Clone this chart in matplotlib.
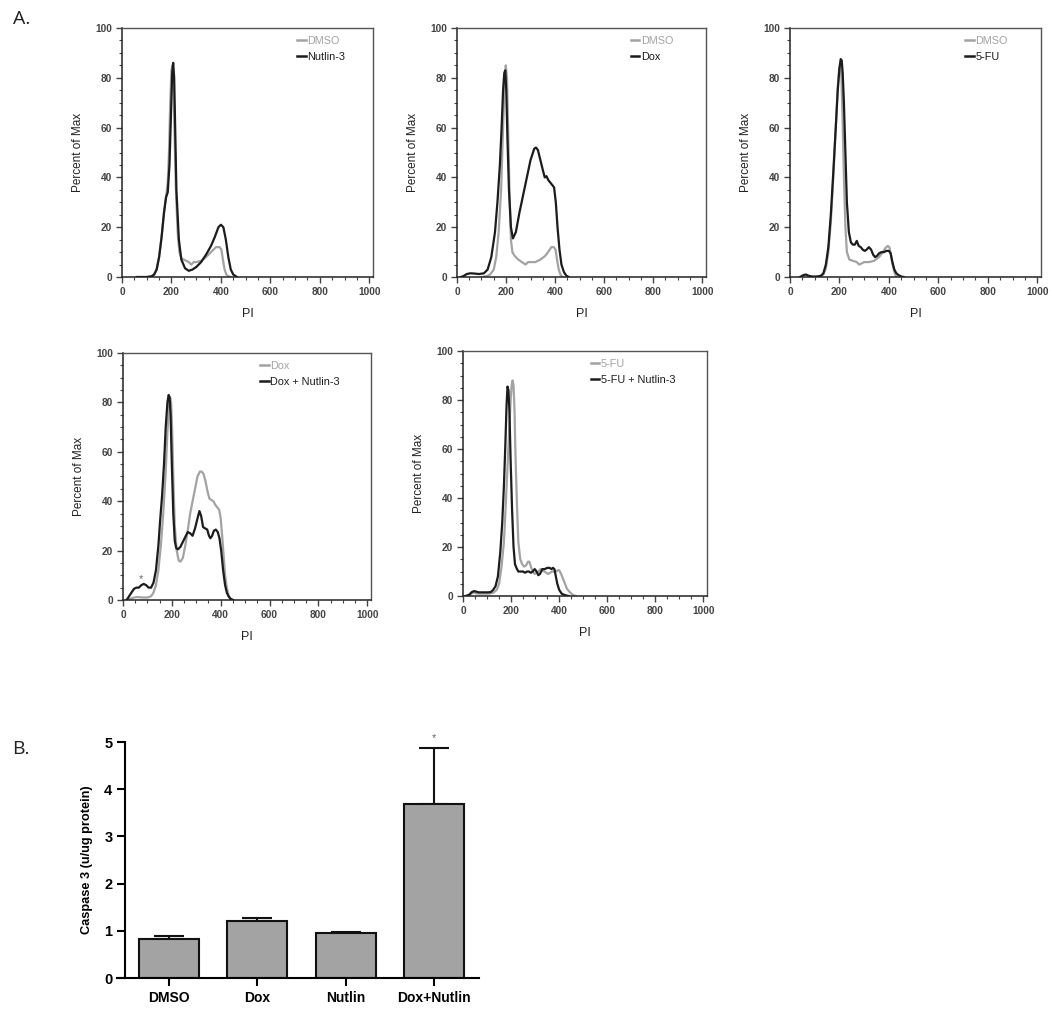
import numpy as np
import matplotlib
matplotlib.use("Agg")
import matplotlib.pyplot as plt
from matplotlib.ticker import MultipleLocator

plt.rcParams['font.family'] = ['Liberation Sans', 'DejaVu Sans']

# ---- Panel A: PI histograms ----
# panel 1: DMSO vs Nutlin-3
p1_ctrl_x = [60, 100, 120, 130, 140, 150, 160, 170, 178, 185, 190, 195, 200, 204, 208, 212, 218, 225, 232, 240,
             250, 260, 270, 280, 290, 300, 320, 340, 360, 380, 395, 402, 408, 415, 422, 430, 440]
p1_ctrl_y = [0, 0, 0.3, 1, 3, 8, 16, 26, 32, 38, 50, 70, 83, 85, 80, 60, 35, 18, 10, 7.5,
             7, 6.5, 6, 5, 6, 6, 6.5, 8, 10, 12, 12, 11, 7, 3, 1, 0.3, 0]
p1_trt_x = [60, 100, 120, 130, 140, 150, 160, 170, 178, 185, 192, 198, 203, 207, 211, 215, 220, 230, 240, 255,
            270, 285, 300, 320, 340, 360, 375, 390, 400, 410, 420, 430, 440, 450, 465]
p1_trt_y = [0, 0, 0.3, 1, 3, 8, 16, 26, 32, 34, 45, 65, 82, 86, 80, 60, 35, 15, 7, 3.5,
            2.5, 3, 4, 6, 9, 12.5, 16, 20, 21, 20, 15, 8, 3, 1, 0]

# panel 2: DMSO vs Dox
p2_ctrl_x = [100, 120, 135, 150, 160, 170, 180, 188, 194, 199, 204, 208, 214, 220, 226, 235, 250, 265, 280, 290,
             300, 320, 340, 360, 375, 385, 395, 402, 408, 415, 422, 430]
p2_ctrl_y = [0, 0.3, 1, 3, 8, 18, 35, 60, 78, 85, 80, 62, 35, 15, 10, 8.5, 7, 6, 5, 6,
             6, 6, 7, 8.5, 10.5, 12, 12, 11, 7, 3, 1, 0]
p2_trt_x = [15, 25, 40, 55, 70, 90, 110, 125, 140, 155, 165, 175, 182, 188, 193, 197, 201, 206, 212, 220,
            228, 240, 255, 270, 285, 300, 315, 322, 330, 340, 350, 358, 365, 372, 380, 388, 396, 403, 410, 418,
            426, 436, 446, 456]
p2_trt_y = [0, 0.3, 1.2, 1.5, 1.4, 1.2, 1.5, 3, 8, 18, 30, 45, 60, 75, 82, 83, 75, 55, 35, 20,
            15.5, 18, 26, 33, 40, 47, 51.5, 52, 51, 47, 43, 40, 40.5, 39, 38, 37, 36, 30, 20, 11,
            5, 2, 0.5, 0]

# panel 3: DMSO vs 5-FU
p3_ctrl_x = [100, 120, 135, 145, 155, 165, 175, 185, 193, 199, 204, 208, 213, 218, 224, 230, 240, 255, 270, 280,
             290, 300, 320, 340, 360, 375, 385, 395, 402, 408, 415, 422, 430]
p3_ctrl_y = [0, 0.3, 1, 3.5, 10, 22, 40, 60, 76, 84, 85, 80, 62, 40, 20, 10, 7, 6.5, 6, 5,
             5.5, 6, 6, 6.5, 8, 10, 11.5, 12.5, 12, 9, 5, 2, 0]
p3_trt_x = [40, 55, 65, 75, 90, 110, 125, 135, 145, 155, 165, 175, 185, 193, 200, 205, 209, 213, 218, 224,
            230, 238, 246, 254, 262, 270, 278, 286, 294, 302, 310, 319, 328, 336, 344, 352, 360, 370, 380, 390,
            400, 407, 414, 422, 430, 440, 450, 460]
p3_trt_y = [0, 0.8, 1, 0.5, 0.2, 0.2, 0.5, 1.5, 5, 12, 25, 42, 60, 75, 84, 87.5, 87, 82, 70, 50,
            30, 18, 14, 13, 13, 14.5, 12.5, 12, 11, 10.5, 11, 12, 11, 9, 8, 8.5, 9.5, 10, 10, 10.5,
            10.5, 9.5, 6, 3, 1.5, 0.7, 0.2, 0]

# panel 4: Dox vs Dox + Nutlin-3
p4_ctrl_x = [15, 30, 45, 60, 80, 100, 115, 125, 135, 145, 155, 165, 175, 182, 188, 193, 197, 201, 206, 212,
             220, 228, 235, 245, 255, 265, 275, 285, 295, 305, 315, 322, 330, 338, 346, 354, 362, 370, 378, 386,
             394, 400, 406, 412, 418, 425, 432, 440, 450]
p4_ctrl_y = [0, 0.5, 1, 1.2, 1, 1, 1.5, 3, 6, 12, 22, 35, 52, 68, 78, 82, 80, 70, 50, 30,
             20, 16, 15.5, 17, 22, 28, 35, 40, 45, 50, 52, 52, 51, 48, 44, 41, 40.5, 40, 38.5, 37.5,
             36.5, 33, 26, 18, 10, 5, 2, 0.5, 0]
p4_trt_x = [15, 25, 35, 45, 55, 65, 75, 85, 95, 105, 115, 125, 135, 145, 152, 160, 168, 175, 182, 187,
            191, 195, 200, 206, 212, 218, 225, 235, 245, 255, 265, 275, 285, 295, 305, 313, 320, 328, 336, 345,
            352, 358, 365, 372, 380, 388, 395, 402, 410, 418, 425, 432, 440, 450]
p4_trt_y = [0, 1.5, 3, 4.5, 5, 5, 6, 6.5, 6, 5, 5, 7, 12, 22, 32, 42, 55, 70, 80, 83,
            82, 75, 55, 35, 24, 21, 20.5, 21.5, 23.5, 25.5, 27.5, 27, 26, 29, 33, 36, 34, 29.5, 29, 28.5,
            26, 25, 26, 28, 28.5, 27.5, 25, 20, 12, 6, 3, 1.5, 0.5, 0]

# panel 5: 5-FU vs 5-FU + Nutlin-3
p5_ctrl_x = [20, 35, 45, 55, 70, 90, 110, 125, 140, 150, 160, 170, 178, 186, 193, 198, 202, 206, 210, 214,
             218, 224, 230, 238, 246, 254, 262, 270, 276, 282, 290, 298, 306, 314, 322, 330, 338, 346, 354, 362,
             370, 378, 386, 394, 400, 408, 416, 424, 432, 440, 450, 460, 470]
p5_ctrl_y = [0, 1, 1.5, 1, 1, 1, 1, 1.3, 2.5, 5, 12, 22, 38, 55, 70, 80, 86, 88, 86, 76,
             58, 38, 22, 15, 13, 12, 12.5, 14, 14, 12, 10, 9, 9.5, 10, 11, 10.5, 10, 9.5, 9, 9.5,
             10, 10, 10, 10.5, 10.5, 9, 7, 5, 3, 2, 1, 0.3, 0]
p5_trt_x = [10, 25, 35, 45, 55, 65, 80, 100, 115, 125, 135, 145, 155, 163, 170, 176, 181, 185, 189, 193,
            198, 204, 210, 216, 222, 230, 240, 250, 258, 266, 274, 282, 290, 298, 306, 313, 320, 330, 340, 350,
            360, 368, 374, 380, 386, 392, 400, 410, 420, 430, 440]
p5_trt_y = [0, 0.5, 1.5, 2, 1.8, 1.5, 1.5, 1.5, 1.6, 2.5, 4, 8, 18, 30, 45, 62, 78, 85.5, 84, 75,
            55, 35, 20, 13, 11.5, 10, 10, 10, 9.5, 10, 10, 9.5, 10, 11, 10, 8.5, 9, 11, 11, 11.5,
            11.5, 11, 11.5, 11, 8, 5, 2.5, 1, 0.5, 0.2, 0]

ctrl_labels = ['DMSO', 'DMSO', 'DMSO', 'Dox', '5-FU']
trt_labels = ['Nutlin-3', 'Dox', '5-FU', 'Dox + Nutlin-3', '5-FU + Nutlin-3']

# ---- Panel B: caspase 3 activity ----
groups = ['DMSO', 'Dox', 'Nutlin', 'Dox+Nutlin']
casp_mean = [0.83, 1.20, 0.95, 3.68]
casp_err = [0.05, 0.08, 0.03, 1.20]

fig = plt.figure(figsize=(10.5, 10.14), dpi=100)

hist_rects = [
    [0.1162, 0.7268, 0.239, 0.2456],
    [0.4352, 0.7268, 0.2371, 0.2456],
    [0.7524, 0.7268, 0.239, 0.2456],
    [0.1171, 0.4083, 0.2362, 0.2436],
    [0.4410, 0.4122, 0.2324, 0.2416],
]
legend_x = [0.68, 0.68, 0.68, 0.535, 0.505]
series = [
    (p1_ctrl_x, p1_ctrl_y, p1_trt_x, p1_trt_y),
    (p2_ctrl_x, p2_ctrl_y, p2_trt_x, p2_trt_y),
    (p3_ctrl_x, p3_ctrl_y, p3_trt_x, p3_trt_y),
    (p4_ctrl_x, p4_ctrl_y, p4_trt_x, p4_trt_y),
    (p5_ctrl_x, p5_ctrl_y, p5_trt_x, p5_trt_y),
]

gray = '#a3a3a3'
dark = '#1c1c1c'

for i, rect in enumerate(hist_rects):
    ax = fig.add_axes(rect)
    cx, cy, tx, ty = series[i]
    ax.plot(cx, cy, color=gray, lw=1.6, label=ctrl_labels[i])
    ax.plot(tx, ty, color=dark, lw=1.6, label=trt_labels[i])
    ax.set_xlim(0, 1015)
    ax.set_ylim(0, 100)
    ax.xaxis.set_major_locator(MultipleLocator(200))
    ax.xaxis.set_minor_locator(MultipleLocator(50))
    ax.yaxis.set_major_locator(MultipleLocator(20))
    ax.yaxis.set_minor_locator(MultipleLocator(5))
    ax.tick_params(which='major', direction='out', length=4, width=1, labelsize=7.3,
                   colors='#444444', pad=3)
    ax.tick_params(which='minor', direction='out', length=2.5, width=0.8, colors='#444444')
    for lab in ax.get_xticklabels() + ax.get_yticklabels():
        lab.set_fontweight('bold')
    for side in ['left', 'bottom']:
        ax.spines[side].set_linewidth(1.1)
        ax.spines[side].set_color('#222222')
    for side in ['top', 'right']:
        ax.spines[side].set_linewidth(1.0)
        ax.spines[side].set_color('#555555')
    ax.set_xlabel('PI', fontsize=9, color='#222222', labelpad=8)
    ax.set_ylabel('Percent of Max', fontsize=8.5, color='#222222', labelpad=8)
    leg = ax.legend(loc='upper left', bbox_to_anchor=(legend_x[i], 0.985), frameon=False,
                    fontsize=7.8, handlelength=0.8, handletextpad=0.15, labelspacing=0.55,
                    borderaxespad=0, labelcolor='linecolor')
    for line in leg.get_lines():
        line.set_linewidth(1.8)
    if i == 3:
        # sub-G1 marker
        ax.text(73, 6.5, '*', ha='center', va='bottom', fontsize=8, color='#666666')

fig.text(0.012, 0.99, 'A.', fontsize=14, family='Open Sans', color='#222222', va='top')
fig.text(0.012, 0.27, 'B.', fontsize=14, family='Open Sans', color='#222222', va='top')

# bar chart
axb = fig.add_axes([0.1114, 0.0355, 0.3448, 0.2327])
xpos = np.arange(len(groups))
axb.bar(xpos, casp_mean, width=0.68, color='#a3a3a3', edgecolor='#111111', linewidth=1.5, zorder=2)
axb.errorbar(xpos, casp_mean, yerr=[np.zeros(len(casp_err)), casp_err], fmt='none',
             ecolor='#111111', elinewidth=1.5, capsize=11, capthick=1.5, zorder=1)
axb.set_xlim(-0.59, 3.51)
axb.set_ylim(0, 5)
axb.spines['left'].set_position(('data', -0.5))
axb.spines['top'].set_visible(False)
axb.spines['right'].set_visible(False)
axb.spines['left'].set_linewidth(1.5)
axb.spines['bottom'].set_linewidth(1.5)
axb.set_xticks(xpos)
axb.set_xticklabels(groups, fontweight='bold', fontsize=10)
axb.set_yticks(range(6))
axb.set_yticklabels([str(v) for v in range(6)], fontweight='bold', fontsize=10.5)
axb.tick_params(direction='out', length=6, width=1.5, pad=3)
axb.set_ylabel('Caspase 3 (u/ug protein)', fontweight='bold', fontsize=9.2, labelpad=8)
axb.text(3, casp_mean[3] + casp_err[3] + 0.1, '*', ha='center', va='bottom',
         fontsize=8, color='#666666', clip_on=False)

fig.savefig('out.png', dpi=100)
